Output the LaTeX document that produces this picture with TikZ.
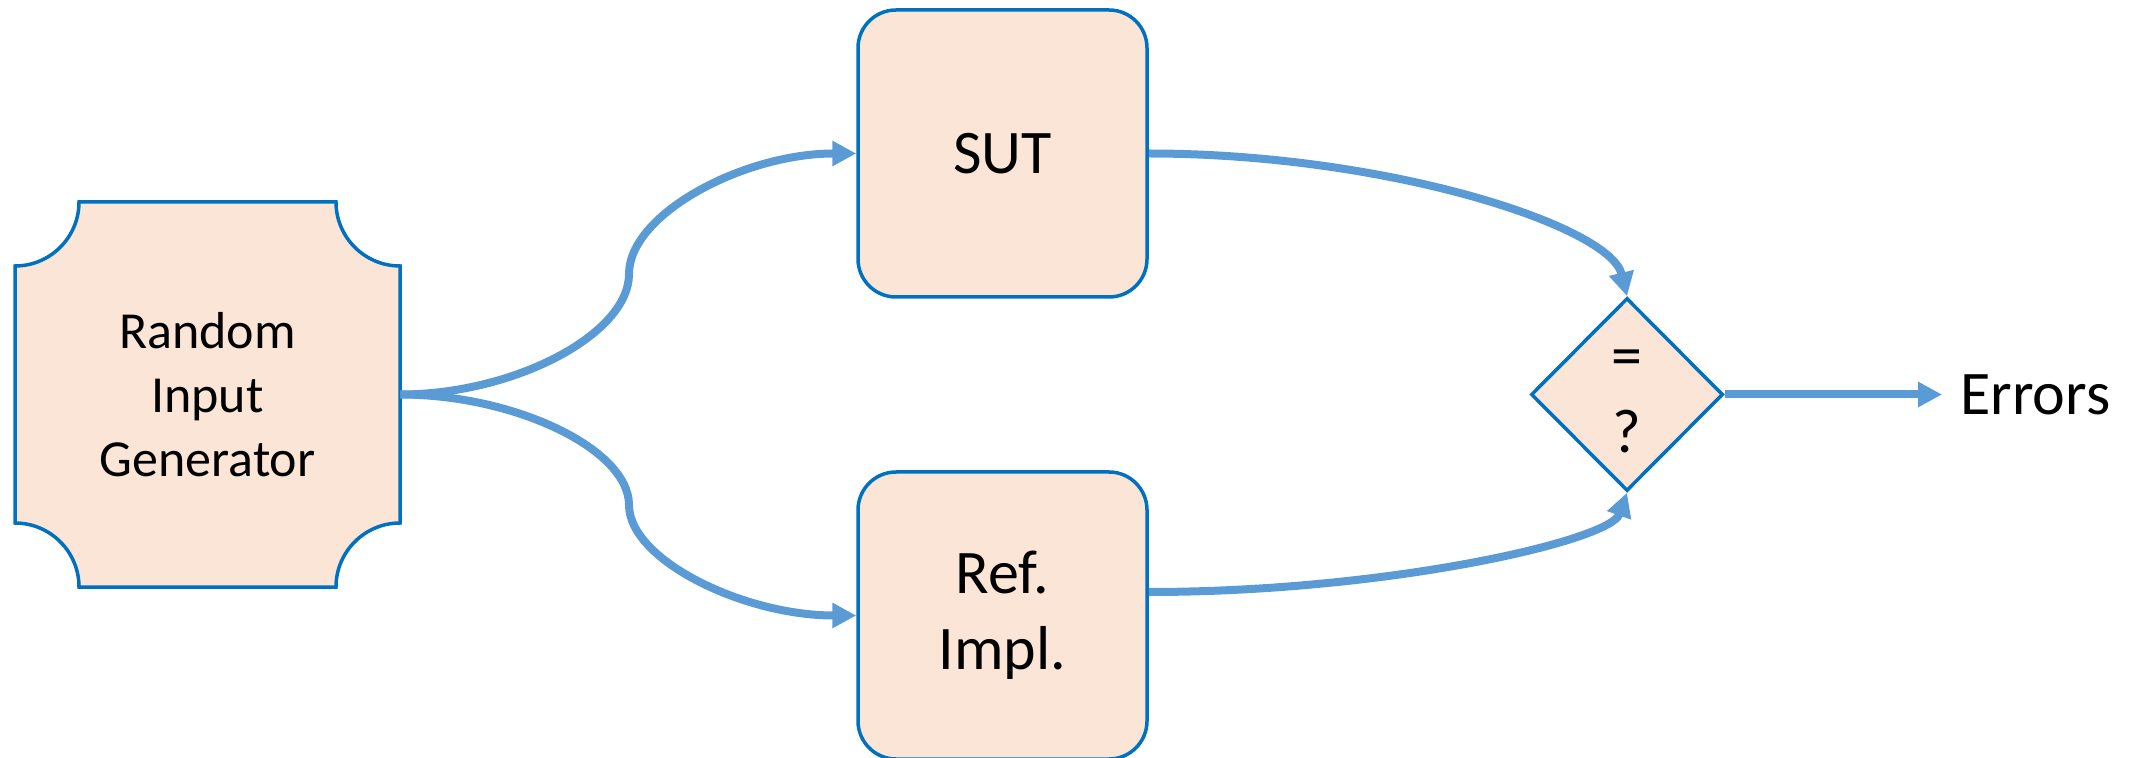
\documentclass[tikz,border=0pt]{standalone}
\usepackage{fontspec}
\setmainfont{Carlito}
\usetikzlibrary{arrows.meta,shapes.geometric,backgrounds}
\definecolor{flowblue}{HTML}{5B9BD5}
\definecolor{edgeblue}{HTML}{0070C0}
\definecolor{peach}{HTML}{FBE5D6}
\begin{document}
\begin{tikzpicture}[x=0.5pt,y=-0.5pt,
  boxstyle/.style={draw=edgeblue, fill=peach, line width=1.75pt},
  bigfont/.style={font=\fontsize{31pt}{37.8pt}\selectfont},
  procbox/.style={boxstyle, bigfont, rectangle, rounded corners=19pt,
    minimum width=144.5pt, minimum height=143.5pt, inner sep=0pt, align=center},
  flowline/.style={draw=flowblue, line width=4pt,
    -{Triangle[length=12pt,width=12pt]}},
]
\useasboundingbox (0,0) rectangle (2134,758);
\clip (0,0) rectangle (2134,758);

% generator (plaque outline drawn behind the text node)
\node[rectangle, minimum width=192.5pt, minimum height=192.5pt, inner sep=0pt,
      font=\fontsize{26pt}{32pt}\selectfont, align=center]
  (gen) at (207.5,394.5) {Random\\Input\\Generator};
\begin{scope}[on background layer]
  \path[boxstyle]
    (79,202) -- (336,202)
    .. controls (336,237.3) and (364.7,266) .. (400,266)
    -- (400,523)
    .. controls (364.7,523) and (336,551.7) .. (336,587)
    -- (79,587)
    .. controls (79,551.7) and (50.3,523) .. (15,523)
    -- (15,266)
    .. controls (50.3,266) and (79,237.3) .. (79,202)
    -- cycle;
\end{scope}

% system under test and reference implementation
\node[procbox] (sut) at (1002.5,153.5) {SUT};
\node[procbox] (ref) at (1002.5,615.5) {Ref.\\Impl.};

% comparator
\node[boxstyle, diamond, minimum width=96pt, minimum height=96.5pt, inner sep=0pt]
  (cmp) at (1627,394.5) {};
\node[bigfont, align=center, inner sep=0pt] (cmptext) at ([yshift=-3.5pt]cmp.center) {=\\?};

% output
\node[bigfont, anchor=west, inner xsep=9pt, inner ysep=0pt] (err) at (1942,394.5) {Errors};

% connectors
\draw[flowline] (gen.east) .. controls (514.5,394.5) and (629,334) .. (629,274)
  .. controls (629,214) and (743.5,153.5) .. (sut.west);
\draw[flowline] (gen.east) .. controls (514.5,394.5) and (629,449) .. (629,505)
  .. controls (629,560) and (743.5,615.5) .. (ref.west);
\draw[flowline] (sut.east) .. controls (1387,153.5) and (1610,226) .. (cmp.north);
\draw[flowline] ([yshift=11.75pt]ref.east) .. controls (1387,592) and (1610,541) .. (cmp.south);
\draw[flowline] (cmp.east) -- (err.west);
\end{tikzpicture}
\end{document}
